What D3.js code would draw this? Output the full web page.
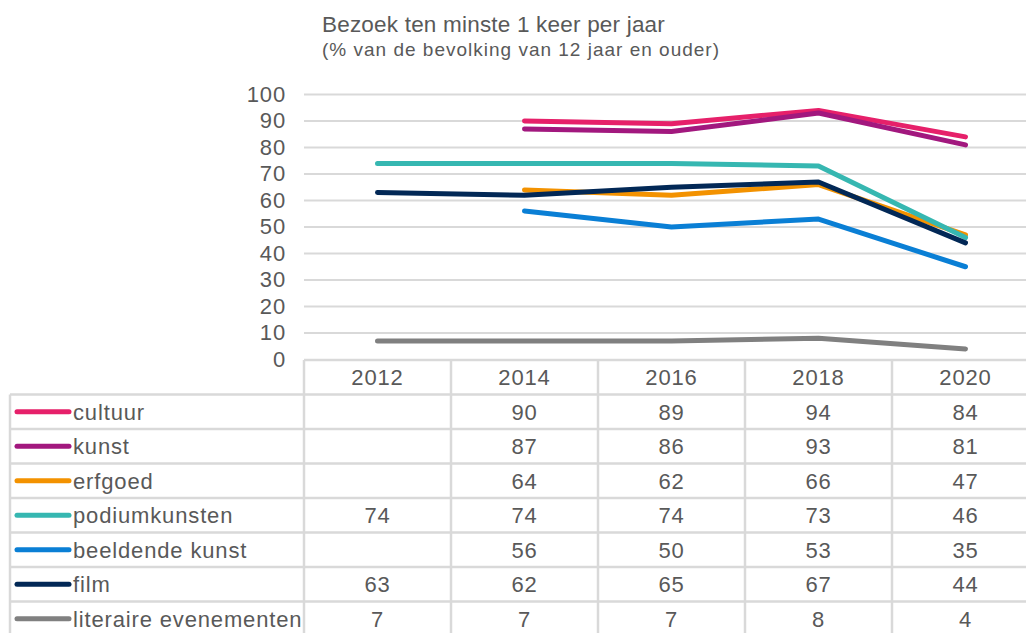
<!DOCTYPE html>
<html>
<head>
<meta charset="utf-8">
<script src="https://cdn.jsdelivr.net/npm/d3@7"></script>
<style>
  body { margin: 0; background: #fff; overflow: hidden; }
  text { font-family: "Liberation Sans", Arial, sans-serif; fill: #595959; }
</style>
</head>
<body>
<div id="chart"></div>
<script>
// data
var years = ["2012", "2014", "2016", "2018", "2020"]
var seriesNames = ["cultuur", "kunst", "erfgoed", "podiumkunsten", "beeldende kunst", "film", "literaire evenementen"]
var seriesColors = ["#e6206a", "#a2187e", "#f39200", "#36b7b1", "#0a7fd5", "#022856", "#808080"]
var cultuur = [null, 90, 89, 94, 84]
var kunst = [null, 87, 86, 93, 81]
var erfgoed = [null, 64, 62, 66, 47]
var podiumkunsten = [74, 74, 74, 73, 46]
var beeldendeKunst = [null, 56, 50, 53, 35]
var film = [63, 62, 65, 67, 44]
var literaireEvenementen = [7, 7, 7, 8, 4]
var yTicks = [0, 10, 20, 30, 40, 50, 60, 70, 80, 90, 100]

var seriesValues = [cultuur, kunst, erfgoed, podiumkunsten, beeldendeKunst, film, literaireEvenementen]

var width = 1026, height = 633
var gridColor = "#d9d9d9"
var fontSize = "22px", spacing = "0.85px"

var svg = d3.select("#chart").append("svg")
    .attr("width", width)
    .attr("height", height)

// x band = table columns, the last one runs off the edge
var x = d3.scaleBand().domain(years).range([304, 304 + 147 * years.length])
var y = d3.scaleLinear().domain([0, 100]).range([359.5, 94.5])

// title
svg.append("text").attr("x", 322).attr("y", 32).style("font-size", "22.5px").style("letter-spacing", "0.2px")
    .text("Bezoek ten minste 1 keer per jaar")
svg.append("text").attr("x", 322).attr("y", 56).style("font-size", "19px").style("letter-spacing", "1px")
    .text("(% van de bevolking van 12 jaar en ouder)")

// gridlines + y axis
var yAxis = d3.axisLeft(y).tickValues(yTicks).tickSize(0).tickPadding(0)
var gy = svg.append("g").attr("transform", "translate(286,0)").call(yAxis)
gy.select(".domain").remove()
gy.selectAll("text").style("font-size", fontSize).style("letter-spacing", spacing)
    .attr("fill", "#595959").attr("dy", "0.3em")

svg.append("g").selectAll("line")
    .data(yTicks.filter(function (d) { return d > 0 }))
    .join("line")
    .attr("x1", 304).attr("x2", width)
    .attr("y1", function (d) { return y(d) }).attr("y2", function (d) { return y(d) })
    .attr("stroke", gridColor).attr("stroke-width", 2)

// table
var headerTop = 360, rowH = 34.5
var table = svg.append("g")
var rowTop = function (i) { return headerTop + rowH * (i + 1) }

// horizontal table lines
table.append("line").attr("x1", 304).attr("x2", width).attr("y1", headerTop).attr("y2", headerTop)
    .attr("stroke", gridColor).attr("stroke-width", 2.5)
table.selectAll("line.row")
    .data(d3.range(seriesNames.length + 1))
    .join("line").attr("class", "row")
    .attr("x1", 10).attr("x2", width)
    .attr("y1", function (d) { return rowTop(d) }).attr("y2", function (d) { return rowTop(d) })
    .attr("stroke", gridColor).attr("stroke-width", 2.5)

// vertical table lines
table.append("line").attr("x1", 10).attr("x2", 10).attr("y1", rowTop(0)).attr("y2", height)
    .attr("stroke", gridColor).attr("stroke-width", 2.5)
table.selectAll("line.col")
    .data(years)
    .join("line").attr("class", "col")
    .attr("x1", function (d) { return x(d) }).attr("x2", function (d) { return x(d) })
    .attr("y1", headerTop).attr("y2", height)
    .attr("stroke", gridColor).attr("stroke-width", 2.5)

// header years
table.selectAll("text.year")
    .data(years)
    .join("text").attr("class", "year")
    .attr("x", function (d) { return x(d) + x.bandwidth() / 2 })
    .attr("y", headerTop + rowH / 2)
    .attr("dy", "0.36em")
    .attr("text-anchor", "middle")
    .style("font-size", fontSize).style("letter-spacing", spacing)
    .text(function (d) { return d })

// legend rows
var rows = table.selectAll("g.legendrow")
    .data(seriesNames)
    .join("g").attr("class", "legendrow")
    .attr("transform", function (d, i) { return "translate(0," + (rowTop(i) + rowH / 2) + ")" })

rows.append("line")
    .attr("x1", 17).attr("x2", 69).attr("y1", 0).attr("y2", 0)
    .attr("stroke", function (d, i) { return seriesColors[i] })
    .attr("stroke-width", 5).attr("stroke-linecap", "round")

rows.append("text")
    .attr("x", 73).attr("dy", "0.36em")
    .style("font-size", fontSize).style("letter-spacing", spacing)
    .text(function (d) { return d })

rows.selectAll("text.val")
    .data(function (d, i) { return seriesValues[i].map(function (v, j) { return { v: v, year: years[j] } }) })
    .join("text").attr("class", "val")
    .attr("x", function (d) { return x(d.year) + x.bandwidth() / 2 })
    .attr("dy", "0.36em")
    .attr("text-anchor", "middle")
    .style("font-size", fontSize).style("letter-spacing", spacing)
    .text(function (d) { return d.v == null ? "" : d.v })

// lines
var line = d3.line()
    .defined(function (d) { return d.v != null })
    .x(function (d) { return x(d.year) + x.bandwidth() / 2 })
    .y(function (d) { return y(d.v) })

svg.append("g").selectAll("path")
    .data(seriesValues)
    .join("path")
    .attr("d", function (vals) { return line(vals.map(function (v, j) { return { v: v, year: years[j] } })) })
    .attr("fill", "none")
    .attr("stroke", function (d, i) { return seriesColors[i] })
    .attr("stroke-width", 5)
    .attr("stroke-linecap", "round")
    .attr("stroke-linejoin", "round")
</script>
</body>
</html>
